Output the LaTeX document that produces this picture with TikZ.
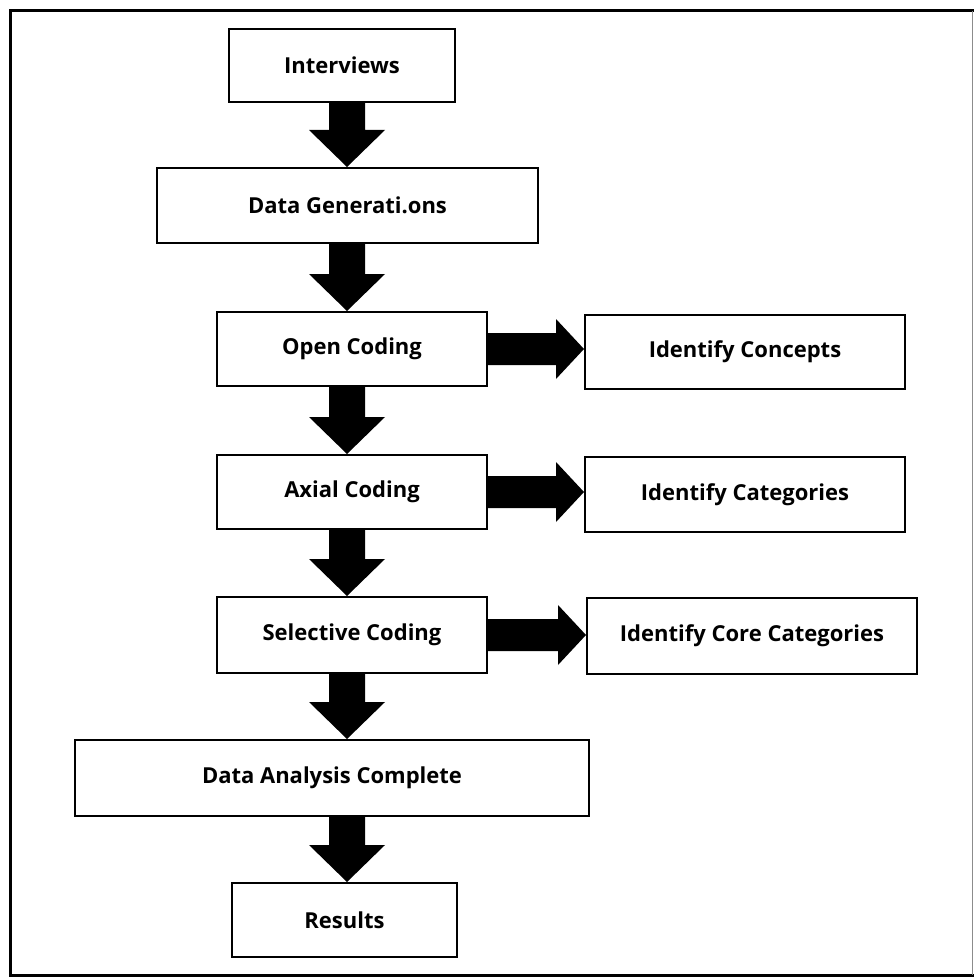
\documentclass[tikz,border=0pt]{standalone}
\usepackage{fontspec}
\setmainfont{Open Sans}
\usetikzlibrary{calc}
\begin{document}
\begin{tikzpicture}[x=1pt,y=-1pt,
  box/.style={draw=black,line width=2pt,fill=white,inner sep=0pt,
    font=\fontsize{22}{26}\selectfont\bfseries},
  frameline/.style={line width=3pt,black}]
\useasboundingbox (0,0) rectangle (974,979);
\fill[white] (0,0) rectangle (974,979);
% outer frame
\draw[frameline,line cap=rect] (972,11) -- (10,11) -- (10,975) -- (972,975);
\draw[line width=1pt,black!45] (972,11) -- (972,975);
% nodes
\node[box,minimum width=226,minimum height=73] (int) at (342,65.5) {Interviews};
\node[box,minimum width=381,minimum height=75] (dg) at (347.5,205.5) {Data Generati.ons};
\node[box,minimum width=270,minimum height=74] (open) at (352,349) {Open Coding};
\node[box,minimum width=270,minimum height=74] (axial) at (352,492) {Axial Coding};
\node[box,minimum width=270,minimum height=76] (sel) at (352,635) {Selective Coding};
\node[box,minimum width=514,minimum height=76] (dac) at (332,778) {Data Analysis Complete};
\node[box,minimum width=225,minimum height=74] (res) at (344.5,920) {Results};
\node[box,minimum width=320,minimum height=74] (conc) at (745,352) {Identify Concepts};
\node[box,minimum width=320,minimum height=75] (cat) at (745,494.5) {Identify Categories};
\node[box,minimum width=330,minimum height=76] (core) at (752,636) {Identify Core Categories};
\coordinate (ax) at (347,0);
% vertical block arrows
\newcommand\vblock[2]{%
  \fill[black] let \p1=(#1.south -| ax), \p2=(#2.north -| ax) in
   (\x1-18pt,\y1) -- (\x1+18pt,\y1) -- (\x1+18pt,\y2+37pt) -- (\x1+38pt,\y2+37pt)
   -- (\x2,\y2) -- (\x1-38pt,\y2+37pt) -- (\x1-18pt,\y2+37pt) -- cycle;}
\newcommand\hblock[2]{%
  \fill[black] let \p1=(#1.east), \p2=(#2.west |- #1.east) in
   (\x1,\y1+16pt) -- (\x2-28pt,\y1+16pt) -- (\x2-28pt,\y1+30pt) -- (\x2,\y1)
   -- (\x2-28pt,\y1-30pt) -- (\x2-28pt,\y1-16pt) -- (\x1,\y1-16pt) -- cycle;}
\vblock{int}{dg}
\vblock{dg}{open}
\vblock{open}{axial}
\vblock{axial}{sel}
\vblock{sel}{dac}
\vblock{dac}{res}
\hblock{open}{conc}
\hblock{axial}{cat}
\hblock{sel}{core}
\end{tikzpicture}
\end{document}
